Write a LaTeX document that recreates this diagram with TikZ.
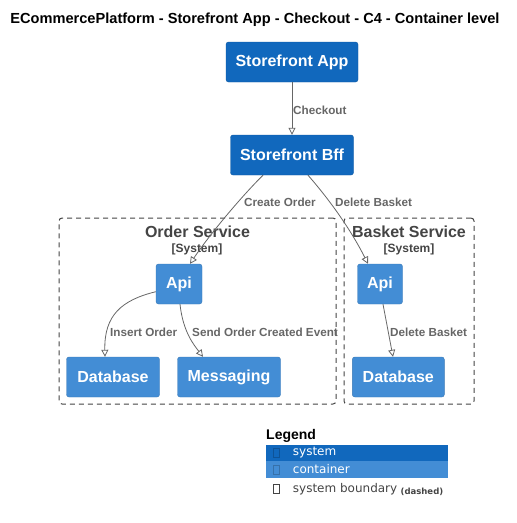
\documentclass[tikz,border=0pt]{standalone}
\usepackage{fontspec}
\setmainfont{Liberation Sans}
\newfontfamily\legendfont{DejaVu Sans}
\usetikzlibrary{arrows.meta, positioning}

\definecolor{systemblue}{HTML}{1168BD}
\definecolor{containerblue}{HTML}{438DD5}
\definecolor{relgray}{HTML}{666666}
\definecolor{boundgray}{HTML}{444444}

\tikzset{
    sysbox/.style={fill=systemblue, draw=systemblue!85!black, line width=0.4pt, rounded corners=2.5pt,
        text=white, font=\fontsize{16}{18}\selectfont\bfseries, minimum height=40pt, inner sep=0pt},
    contbox/.style={sysbox, fill=containerblue, draw=containerblue!85!black},
    boundary/.style={draw=boundgray, dashed, dash pattern=on 5pt off 4pt, line width=1pt, rounded corners=3pt, inner sep=0pt},
    rel/.style={draw=relgray, line width=0.8pt, -{Triangle[open, length=7pt, width=7pt]}},
    lbl/.style={text=relgray, font=\fontsize{11.7}{14}\selectfont\bfseries, inner sep=0pt, anchor=west}
}

\begin{document}
\begin{tikzpicture}[x=1pt, y=-1pt]
        \useasboundingbox (0,0) rectangle (517,523);

        % Title
        \node[font=\fontsize{14.6}{16}\selectfont\bfseries, inner sep=0pt] (title) at (255,20) {ECommercePlatform - Storefront App - Checkout - C4 - Container level};

        % Systems
        \node[sysbox, minimum width=132pt] (app) at (292,62) {Storefront App};
        \node[sysbox, minimum width=123pt] (bff) at (292,155) {Storefront Bff};

        % Boundaries
        \node[boundary, minimum width=277pt, minimum height=186pt] (orderSvc) at (197.5,311) {};
        \node[boundary, minimum width=130pt, minimum height=186pt] (basketSvc) at (409,311) {};
        \node[text=boundgray, font=\fontsize{16}{18}\selectfont\bfseries, inner sep=0pt] (orderTitle) at (197.5,232) {Order Service};
        \node[text=boundgray, font=\fontsize{12}{14}\selectfont\bfseries, inner sep=0pt] (orderSys) at (197,249) {[System]};
        \node[text=boundgray, font=\fontsize{16}{18}\selectfont\bfseries, inner sep=0pt] (basketTitle) at (409,232) {Basket Service};
        \node[text=boundgray, font=\fontsize{12}{14}\selectfont\bfseries, inner sep=0pt] (basketSys) at (409,249) {[System]};

        % Containers
        \node[contbox, minimum width=46pt] (orderApi) at (179,284) {Api};
        \node[contbox, minimum width=93pt] (orderDb) at (113,377) {Database};
        \node[contbox, minimum width=103pt] (msg) at (229,377) {Messaging};
        \node[contbox, minimum width=45pt] (basketApi) at (380,284) {Api};
        \node[contbox, minimum width=92pt] (basketDb) at (398.3,377) {Database};

        % Relations
        \draw[rel] (app) -- (bff);
        \node[lbl] (checkoutLbl) at (293,110) {Checkout};
        \draw[rel] ([xshift=-29pt]bff.south) .. controls (241,197) and (210,234) .. ([xshift=11pt]orderApi.north);
        \node[lbl] (createLbl) at (244,202) {Create Order};
        \draw[rel] ([xshift=16pt]bff.south) .. controls (334,205) and (353,234) .. ([xshift=-12pt]basketApi.north);
        \node[lbl] (deleteLbl) at (335,202) {Delete Basket};
        \draw[rel] ([yshift=-7.7pt]orderApi.west) .. controls (122,300) and (104,315) .. ([xshift=-8pt]orderDb.north);
        \node[lbl] (insertLbl) at (110,332) {Insert Order};
        \draw[rel] ([xshift=1pt]orderApi.south) .. controls (183,332) and (194,345) .. ([xshift=-26pt]msg.north);
        \node[lbl] (sendLbl) at (192,332) {Send Order Created Event};
        \draw[rel] ([xshift=3pt]basketApi.south) -- ([xshift=-5.3pt]basketDb.north);
        \node[lbl] (deleteDbLbl) at (390,332) {Delete Basket};

        % Legend
        \node[font=\fontsize{14}{16}\selectfont\bfseries, inner sep=0pt, anchor=west] (legend) at (266,436) {Legend};
        \fill[systemblue] (266,444.5) rectangle (448.3,461);
        \fill[containerblue] (266,461) rectangle (448.3,477.7);
        \draw[systemblue!80!black, line width=0.5pt] (273.5,448.5) rectangle (279.5,457.5);
        \draw[containerblue!80!black, line width=0.5pt] (273.5,465) rectangle (279.5,474);
        \draw[boundgray, line width=0.6pt] (273.5,484.5) rectangle (279.5,493.5);
        \node[text=white, font=\legendfont\fontsize{12}{14}\selectfont, inner sep=0pt, anchor=west] (legSys) at (292.7,453) {system};
        \node[text=white, font=\legendfont\fontsize{12}{14}\selectfont, inner sep=0pt, anchor=west] (legCont) at (292.7,469.5) {container};
        \node[text=boundgray, font=\legendfont\fontsize{12}{14}\selectfont, inner sep=0pt, anchor=west] (legBound) at (292.7,489) {system boundary};
        \node[text=boundgray, font=\legendfont\fontsize{8.5}{10}\selectfont\bfseries, inner sep=0pt, anchor=west] (legDash) at ([xshift=3pt]legBound.east |- 0,491.5) {(dashed)};
\end{tikzpicture}
\end{document}
